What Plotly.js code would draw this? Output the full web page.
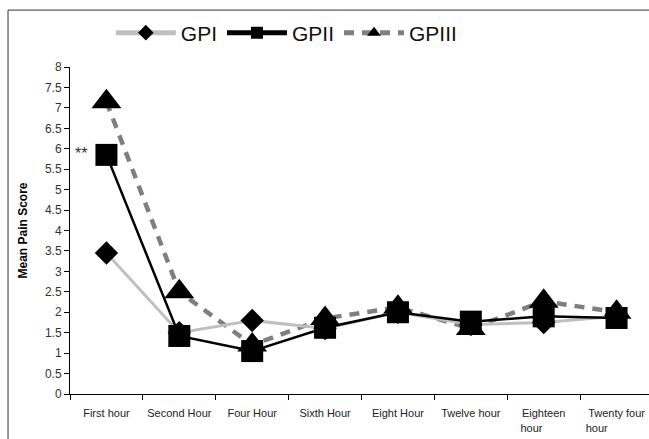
<!DOCTYPE html>
<html>
<head>
<meta charset="utf-8">
<script src="https://cdn.plot.ly/plotly-3.0.1.min.js"></script>
<style>
html,body{margin:0;padding:0;overflow:hidden;background:#fff;}
#chart{width:655px;height:439px;}
</style>
</head>
<body>
<div id="chart"></div>
<script>
const categories = ["First hour","Second Hour","Four Hour","Sixth Hour","Eight Hour","Twelve hour","Eighteen<br>hour\u00a0\u00a0\u00a0\u00a0\u00a0\u00a0\u00a0\u00a0","Twenty four<br>hour\u00a0\u00a0\u00a0\u00a0\u00a0\u00a0\u00a0\u00a0\u00a0\u00a0\u00a0\u00a0\u00a0"];
const gpi   = [3.45, 1.5, 1.8, 1.6, 2.0, 1.7, 1.75, 1.9];
const gpii  = [5.85, 1.42, 1.05, 1.62, 2.0, 1.77, 1.9, 1.86];
const gpiii = [7.15, 2.5, 1.2, 1.85, 2.12, 1.6, 2.27, 2.0];
const yTicks = [0,0.5,1,1.5,2,2.5,3,3.5,4,4.5,5,5.5,6,6.5,7,7.5,8];

const FONT = "Liberation Sans, Arial, sans-serif";

const traces = [
  {x: categories, y: gpi, name: "GPI", type: "scatter", mode: "lines+markers",
   line: {color: "#bfbfbf", width: 3},
   marker: {symbol: "diamond", size: 18, color: "#000"}},
  {x: categories, y: gpii, name: "GPII", type: "scatter", mode: "lines+markers",
   line: {color: "#000", width: 2.5},
   marker: {symbol: "square", size: 22, color: "#000"}},
  {x: categories, y: gpiii, name: "GPIII", type: "scatter", mode: "lines+markers",
   line: {color: "#7f7f7f", width: 4.5, dash: "10px,8px"},
   marker: {symbol: "triangle-up", size: 26, color: "#000"}}
];
traces[0].legendrank = 1; traces[1].legendrank = 2; traces[2].legendrank = 3;
const data = [traces[2], traces[0], traces[1]];

const layout = {
  width: 655, height: 439,
  margin: {l: 70, r: 2, t: 67, b: 45},
  paper_bgcolor: "#fff", plot_bgcolor: "#fff",
  font: {family: FONT, color: "#222", size: 11},
  showlegend: true,
  legend: {orientation: "h", x: 0.07, xanchor: "left", y: 1.104, yanchor: "middle",
           font: {family: FONT, size: 21, color: "#111"}, itemwidth: 60, itemsizing: "constant",
           traceorder: "normal", bgcolor: "rgba(0,0,0,0)"},
  xaxis: {type: "category", range: [-0.5, 7.5], showline: true, linecolor: "#000", linewidth: 1,
          ticks: "outside", tickson: "boundaries", ticklen: 5, tickcolor: "#000", tickangle: 0,
          ticklabelstandoff: 9,
          showgrid: false, zeroline: false, tickfont: {family: FONT, size: 11, color: "#222"},
          automargin: false},
  yaxis: {range: [0, 8], tickvals: yTicks, showline: true, linecolor: "#000", linewidth: 1,
          ticks: "outside", ticklen: 5, tickcolor: "#000", showgrid: false, zeroline: false,
          tickfont: {family: FONT, size: 12, color: "#333"}, automargin: false,
          title: {text: "<b>Mean Pain Score</b>", font: {family: FONT, size: 12, color: "#000"}, standoff: 14}},
  annotations: [
    {x: categories[0], y: gpii[0], xref: "x", yref: "y", text: "**", showarrow: false,
     xshift: -25, yshift: 1, font: {family: FONT, size: 16, color: "#333"}}
  ],
  shapes: [
    {type: "path", xref: "paper", yref: "paper",
     path: "M -0.1063,-0.3 L -0.1063,1.174 L 1.3,1.174",
     line: {color: "#333", width: 1}}
  ]
};

Plotly.newPlot("chart", data, layout, {displayModeBar: false, staticPlot: true});
</script>
</body>
</html>
